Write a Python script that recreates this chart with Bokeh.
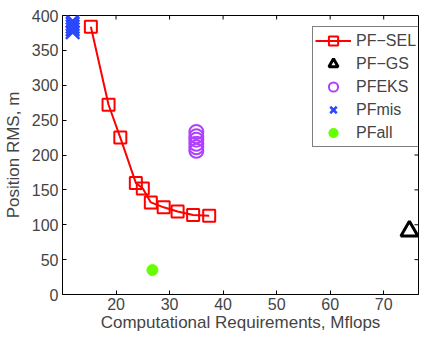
import math
from bokeh.plotting import figure
from bokeh.models import Range1d, FixedTicker, Legend, LegendItem
from bokeh.embed import file_html
from bokeh.resources import INLINE

# ---- data ----
sel_x = [15.3, 18.6, 20.8, 23.7, 25.0, 26.5, 28.9, 31.5, 34.4, 37.4]
sel_y = [384, 272, 225, 160, 152, 132, 125, 119, 114, 113]
gs_x = [74.8]
gs_y = [91]
eks_x = [35.0, 35.0, 35.0, 35.0, 35.0, 35.0]
eks_y = [206, 211, 216, 222, 227, 233]
mis_x = [11.9, 11.9, 11.9, 11.9, 11.9]
mis_y = [376, 380, 384, 388, 392]
all_x = [26.8]
all_y = [35]
x_ticks = [20, 30, 40, 50, 60, 70]
y_ticks = [0, 50, 100, 150, 200, 250, 300, 350, 400]
x_lim = (10, 76.5)
y_lim = (0, 400)

FONT = "Liberation Sans"

p = figure(width=420, height=334, output_backend="svg", toolbar_location=None,
           x_range=Range1d(*x_lim), y_range=Range1d(*y_lim),
           min_border_left=56, min_border_right=2, min_border_top=15, min_border_bottom=0)
p.grid.visible = False
p.outline_line_color = "black"
p.outline_line_width = 1

# inward tick marks on the top and right edges of the box
p.ray(x=x_ticks, y=[y_lim[1]] * len(x_ticks), length=4, length_units="screen",
      angle=-math.pi / 2, line_color="black", line_width=1)
p.ray(x=[x_lim[1]] * len(y_ticks), y=y_ticks, length=4, length_units="screen",
      angle=math.pi, line_color="black", line_width=1)

red = p.line(sel_x, sel_y, line_color="#ff0000", line_width=2)
red_sq = p.scatter(sel_x, sel_y, marker="square", size=12, line_color="#ff0000",
                   fill_color=None, line_width=2)
gs = p.scatter(gs_x, gs_y, marker="triangle", size=17, line_color="black",
               fill_color=None, line_width=3)
eks = p.scatter(eks_x, eks_y, marker="circle", size=14, line_color="#b040ff",
                fill_color=None, line_width=2)
mis = p.scatter(mis_x, mis_y, marker="x", size=19, line_color="#2a48ff", line_width=2.5)
pall = p.scatter(all_x, all_y, marker="circle", size=11, line_color="#66ff00",
                 fill_color="#66ff00", line_width=1)

for ax in (p.xaxis[0], p.yaxis[0]):
    ax.major_tick_in = 4
    ax.major_tick_out = 0
    ax.minor_tick_line_color = None
    ax.major_label_text_font = FONT
    ax.major_label_text_font_size = "16px"
    ax.axis_label_text_font = FONT
    ax.axis_label_text_font_size = "17px"
    ax.axis_label_text_font_style = "normal"
    ax.axis_line_color = "black"

p.xaxis[0].ticker = FixedTicker(ticks=x_ticks)
p.yaxis[0].ticker = FixedTicker(ticks=y_ticks)
p.xaxis[0].axis_label = "Computational Requirements, Mflops"
p.yaxis[0].axis_label = "Position RMS, m"
p.xaxis[0].major_label_standoff = 3
p.xaxis[0].axis_label_standoff = 0
p.yaxis[0].major_label_standoff = 4
p.yaxis[0].axis_label_standoff = 6

legend = Legend(items=[
    LegendItem(label="PF\u2212SEL", renderers=[red, red_sq]),
    LegendItem(label="PF\u2212GS", renderers=[gs]),
    LegendItem(label="PFEKS", renderers=[eks]),
    LegendItem(label="PFmis", renderers=[mis]),
    LegendItem(label="PFall", renderers=[pall]),
], location=(250, 147))
legend.label_text_font = FONT
legend.label_text_font_size = "16px"
legend.border_line_color = "black"
legend.border_line_width = 1
legend.background_fill_alpha = 1
legend.glyph_width = 36
legend.glyph_height = 23
legend.label_height = 23
legend.spacing = 0
legend.padding = 2
legend.margin = 0
legend.label_standoff = 5
p.add_layout(legend, "center")

open("out.html", "w").write(file_html(p, INLINE))
